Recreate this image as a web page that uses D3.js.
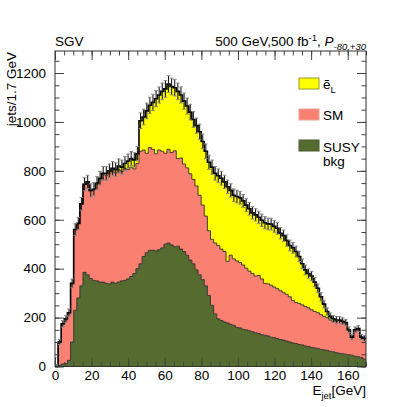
<!DOCTYPE html>
<html>
<head>
<meta charset="utf-8">
<script src="https://cdn.jsdelivr.net/npm/d3@7"></script>
<style>
  body { margin: 0; background: #fff; }
  svg text { font-family: "Liberation Sans", Arial, sans-serif; }
</style>
</head>
<body>
<script>
// jets per 1.7 GeV bin, 100 bins from 0 to 170 GeV
const binWidth = 1.7;
const susyBkg = [
  0, 5, 10, 12, 25, 100, 230, 280, 330, 385,
  375, 360, 352, 350, 345, 345, 340, 338, 345, 340,
  345, 350, 352, 358, 368, 380, 400, 420, 450, 465,
  475, 475, 472, 478, 485, 500, 505, 497, 490, 492,
  480, 470, 455, 435, 420, 395, 375, 355, 330, 290,
  250, 215, 195, 188, 182, 178, 172, 168, 160, 158,
  152, 150, 146, 142, 138, 135, 130, 128, 125, 120,
  118, 114, 110, 108, 104, 100, 96, 94, 90, 88,
  84, 82, 78, 76, 74, 70, 68, 66, 62, 60,
  56, 54, 52, 50, 48, 46, 42, 40, 36, 30
];
const sm = [
  5, 95, 165, 178, 193, 240, 330, 305, 335, 360,
  377, 358, 370, 395, 420, 440, 442, 452, 455, 452,
  460, 448, 458, 447, 447, 428, 430, 460, 435, 407,
  420, 413, 398, 407, 395, 372, 383, 378, 392, 358,
  372, 358, 357, 353, 345, 343, 325, 305, 285, 265,
  270, 290, 300, 292, 288, 252, 283, 272, 272, 267,
  263, 252, 244, 238, 232, 237, 228, 212, 213, 212,
  207, 204, 200, 194, 191, 185, 174, 168, 168, 164,
  161, 158, 154, 149, 146, 142, 137, 134, 128, 125,
  129, 134, 130, 128, 102, 74, 108, 115, 84, 85
];
const selectronL = [
  0, 0, 0, 5, 2, 0, 0, 0, 0, 0,
  3, 2, 3, 5, 5, 5, 8, 10, 10, 13,
  15, 17, 20, 35, 35, 37, 40, 125, 135, 173,
  173, 192, 225, 225, 245, 263, 267, 270, 258, 275,
  258, 257, 253, 252, 245, 247, 260, 260, 265, 280,
  295, 285, 285, 290, 285, 305, 265, 260, 263, 265,
  262, 258, 255, 248, 250, 238, 240, 248, 245, 250,
  248, 247, 235, 233, 220, 210, 215, 208, 192, 168,
  150, 140, 138, 120, 100, 73, 50, 25, 15, 10,
  5, 2, 3, 2, 0, 0, 0, 0, 0, 0
];
// statistical error on the total, per bin
const totalErr = [
  2, 10, 13, 14, 15, 18, 24, 24, 26, 27,
  27, 27, 27, 27, 28, 28, 28, 28, 28, 28,
  29, 29, 29, 29, 29, 29, 29, 32, 32, 32,
  33, 33, 33, 33, 34, 34, 34, 34, 34, 34,
  33, 33, 33, 32, 32, 31, 31, 30, 30, 29,
  29, 28, 28, 28, 27, 27, 27, 26, 26, 26,
  26, 26, 26, 25, 25, 25, 25, 25, 24, 24,
  24, 24, 23, 23, 23, 22, 22, 22, 21, 20,
  20, 19, 19, 19, 18, 17, 16, 15, 14, 14,
  14, 14, 14, 13, 12, 11, 12, 12, 11, 11
];
const xTicks = [0, 20, 40, 60, 80, 100, 120, 140, 160];
const yTicks = [0, 200, 400, 600, 800, 1000, 1200];
const seriesKeys = ["susy", "sm", "eL"];
const seriesColors = { susy: "#556b2f", sm: "#fa8072", eL: "#ffff00" };

const width = 407;
const height = 407;
const plot = { left: 55, right: 366, top: 51, bottom: 366.5 };

const svg = d3
  .select("body")
  .append("svg")
  .attr("width", width)
  .attr("height", height);

const x = d3.scaleLinear().domain([0, 170]).range([plot.left, plot.right]);
const y = d3.scaleLinear().domain([0, 1290]).range([plot.bottom, plot.top]);

const rows = susyBkg.map((d, i) => ({
  x0: i * binWidth,
  susy: d,
  sm: sm[i],
  eL: selectronL[i],
}));
// closing edge so the last step is drawn
rows.push({ ...rows[rows.length - 1], x0: rows.length * binWidth });

const stacked = d3.stack().keys(seriesKeys)(rows);

svg
  .append("clipPath")
  .attr("id", "clip")
  .append("rect")
  .attr("x", plot.left)
  .attr("y", plot.top)
  .attr("width", plot.right - plot.left)
  .attr("height", plot.bottom - plot.top);

const g = svg.append("g").attr("clip-path", "url(#clip)");

const area = d3
  .area()
  .x((d) => x(d.data.x0))
  .y0((d) => y(d[0]))
  .y1((d) => y(d[1]))
  .curve(d3.curveStepAfter);

const topLine = d3
  .line()
  .x((d) => x(d.data.x0))
  .y((d) => y(d[1]))
  .curve(d3.curveStepAfter);

g.selectAll(".layer")
  .data(stacked)
  .enter()
  .append("path")
  .attr("class", "layer")
  .attr("d", area)
  .attr("fill", (d) => seriesColors[d.key]);

g.selectAll(".outline")
  .data(stacked)
  .enter()
  .append("path")
  .attr("class", "outline")
  .attr("d", topLine)
  .attr("fill", "none")
  .attr("stroke", (d) => (d.key === "eL" ? "#000" : "#2b2b2b"))
  .attr("stroke-width", (d) => (d.key === "eL" ? 1.6 : 0.9));

// error bars on the total
const tops = stacked[2].slice(0, -1);
const errG = g.append("g");
errG
  .selectAll("line.err")
  .data(tops)
  .enter()
  .append("line")
  .attr("class", "err")
  .attr("x1", (d) => x(d.data.x0 + binWidth / 2))
  .attr("x2", (d) => x(d.data.x0 + binWidth / 2))
  .attr("y1", (d, i) => y(d[1] - totalErr[i]))
  .attr("y2", (d, i) => y(d[1] + totalErr[i]))
  .attr("stroke", "#1a1a1a")
  .attr("stroke-width", 1.1);
errG
  .selectAll("line.cap")
  .data(tops.flatMap((d, i) => [d[1] - totalErr[i], d[1] + totalErr[i]].map((v) => ({ d, v }))))
  .enter()
  .append("line")
  .attr("class", "cap")
  .attr("x1", (e) => x(e.d.data.x0 + binWidth / 2) - 1.8)
  .attr("x2", (e) => x(e.d.data.x0 + binWidth / 2) + 1.8)
  .attr("y1", (e) => y(e.v))
  .attr("y2", (e) => y(e.v))
  .attr("stroke", "#888")
  .attr("stroke-width", 1);

// axes, ROOT style ticks pointing inward
const fontSize = "13.5px";
const axisStyle = (sel) => {
  sel.select(".domain").remove();
  sel.selectAll("line").attr("stroke", "#444");
  sel.selectAll("text").style("font-size", fontSize).attr("fill", "#000");
};
const minorX = d3.range(0, 171, 5);
const minorY = d3.range(0, 1290, 50);

svg.append("g")
  .attr("transform", `translate(0,${plot.bottom})`)
  .call(d3.axisBottom(x).tickValues(xTicks).tickSize(-9).tickPadding(4))
  .call(axisStyle);
svg.append("g")
  .attr("transform", `translate(0,${plot.bottom})`)
  .call(d3.axisBottom(x).tickValues(minorX).tickSize(-4.5).tickFormat(""))
  .call(axisStyle);
svg.append("g")
  .attr("transform", `translate(0,${plot.top})`)
  .call(d3.axisTop(x).tickValues(xTicks).tickSize(-9).tickFormat(""))
  .call(axisStyle);
svg.append("g")
  .attr("transform", `translate(0,${plot.top})`)
  .call(d3.axisTop(x).tickValues(minorX).tickSize(-4.5).tickFormat(""))
  .call(axisStyle);

svg.append("g")
  .attr("transform", `translate(${plot.left},0)`)
  .call(d3.axisLeft(y).tickValues(yTicks).tickSize(-9).tickPadding(9).tickFormat(d3.format("d")))
  .call(axisStyle);
svg.append("g")
  .attr("transform", `translate(${plot.left},0)`)
  .call(d3.axisLeft(y).tickValues(minorY).tickSize(-4.5).tickFormat(""))
  .call(axisStyle);
svg.append("g")
  .attr("transform", `translate(${plot.right},0)`)
  .call(d3.axisRight(y).tickValues(yTicks).tickSize(-9).tickFormat(""))
  .call(axisStyle);
svg.append("g")
  .attr("transform", `translate(${plot.right},0)`)
  .call(d3.axisRight(y).tickValues(minorY).tickSize(-4.5).tickFormat(""))
  .call(axisStyle);

svg.append("rect")
  .attr("x", plot.left)
  .attr("y", plot.top)
  .attr("width", plot.right - plot.left)
  .attr("height", plot.bottom - plot.top)
  .attr("fill", "none")
  .attr("stroke", "#333")
  .attr("stroke-width", 1);

// titles
svg.append("text")
  .attr("x", plot.left)
  .attr("y", 46)
  .style("font-size", fontSize)
  .text("SGV");

const title = svg.append("text")
  .attr("x", plot.right)
  .attr("y", 46)
  .attr("text-anchor", "end")
  .style("font-size", fontSize);
title.append("tspan").text("500 GeV,500 fb");
title.append("tspan").attr("dy", -5).style("font-size", "9.5px").text("-1");
title.append("tspan").attr("dy", 5).text(", ");
title.append("tspan").style("font-style", "italic").text("P");
title.append("tspan").attr("dy", 4).style("font-size", "9.5px").style("font-style", "italic").text("-80,+30");

svg.append("text")
  .attr("transform", "translate(16,52) rotate(-90)")
  .attr("text-anchor", "end")
  .style("font-size", fontSize)
  .text("jets/1.7 GeV");

const xLabel = svg.append("text")
  .attr("x", plot.right)
  .attr("y", 395)
  .attr("text-anchor", "end")
  .style("font-size", fontSize);
xLabel.append("tspan").text("E");
xLabel.append("tspan").attr("dy", 4).style("font-size", "9.5px").text("jet");
xLabel.append("tspan").attr("dy", -4).text("[GeV]");

// legend
const legendItems = [
  { key: "eL", y: 78 },
  { key: "sm", y: 109 },
  { key: "susy", y: 140 },
];
const legendStroke = { eL: "#9a9a30", sm: "#e8a095", susy: "#4a5a30" };
svg.append("g")
  .selectAll("rect")
  .data(legendItems)
  .enter()
  .append("rect")
  .attr("x", 299)
  .attr("y", (d) => d.y)
  .attr("width", 20)
  .attr("height", 11)
  .attr("fill", (d) => seriesColors[d.key])
  .attr("stroke", (d) => legendStroke[d.key])
  .attr("stroke-width", 1);

const lab1 = svg.append("text").attr("x", 323).attr("y", 89).style("font-size", fontSize);
lab1.append("tspan").text("\u1EBD");
lab1.append("tspan").attr("dy", 4).style("font-size", "9.5px").text("L");
svg.append("text").attr("x", 323).attr("y", 119.5).style("font-size", fontSize).text("SM");
svg.append("text").attr("x", 323).attr("y", 151.5).style("font-size", fontSize).text("SUSY");
svg.append("text").attr("x", 323).attr("y", 166).style("font-size", fontSize).text("bkg");
</script>
</body>
</html>
